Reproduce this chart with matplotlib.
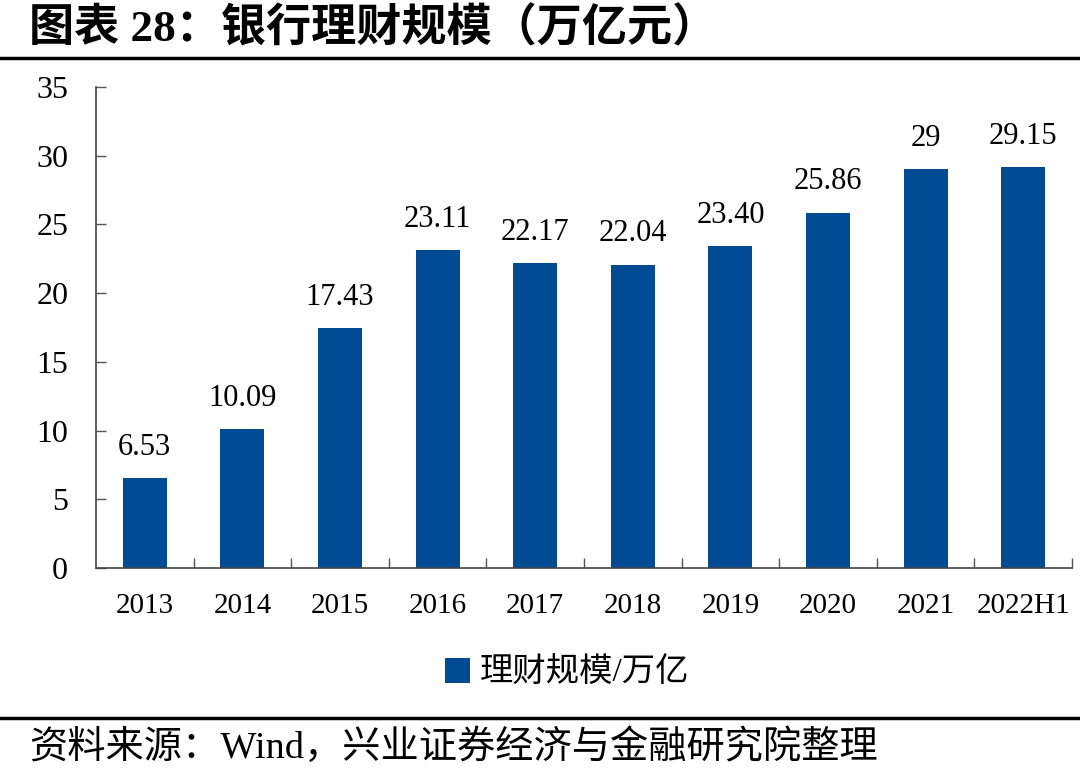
import matplotlib
matplotlib.use("Agg")
import matplotlib.pyplot as plt
import numpy as np

# ── Data ─────────────────────────────────────────────────────
years = ["2013", "2014", "2015", "2016", "2017", "2018", "2019", "2020", "2021", "2022H1"]
scale = [6.53, 10.09, 17.43, 23.11, 22.17, 22.04, 23.40, 25.86, 29.0, 29.15]
value_labels = ["6.53", "10.09", "17.43", "23.11", "22.17", "22.04", "23.40", "25.86", "29", "29.15"]
yticks = [0, 5, 10, 15, 20, 25, 30, 35]

TITLE = "图表 28：银行理财规模（万亿元）"
LEGEND = "理财规模/万亿"
SOURCE = "资料来源：Wind，兴业证券经济与金融研究院整理"

FONT = ["Liberation Serif", "Noto Sans CJK SC"]
BLUE = "#004B93"
plt.rcParams["font.family"] = FONT

fig = plt.figure(figsize=(10.8, 7.68), dpi=100)
ax = fig.add_axes([0.0889, 0.2604, 0.9037, 0.6263])

x = np.arange(len(years))
bars = ax.bar(x, scale, width=0.45, color=BLUE, label=LEGEND)

for xi, v, lab in zip(x, scale, value_labels):
    ax.annotate(lab, xy=(xi, v), xytext=(0, 12), textcoords="offset points",
                ha="center", va="bottom", fontsize=22, family=FONT)

ax.set_xlim(-0.5, len(years) - 0.5)
ax.set_ylim(0, 35)
ax.set_yticks(yticks)
ax.set_yticklabels([str(t) for t in yticks], fontsize=23)
ax.set_xticks(x)
ax.set_xticklabels(years, fontsize=21)
ax.set_xticks(np.arange(0.5, len(years), 1.0), minor=True)

ax.tick_params(axis="y", direction="in", length=7, width=1, color="#555555", pad=20)
ax.tick_params(axis="x", which="major", length=0, pad=18)
ax.tick_params(axis="x", which="minor", direction="in", length=7, width=1, color="#555555")

for s in ["top", "right"]:
    ax.spines[s].set_visible(False)
for s in ["left", "bottom"]:
    ax.spines[s].set_color("#444444")
    ax.spines[s].set_linewidth(1.2)

fig.legend(handles=[bars], labels=[LEGEND], loc="center", bbox_to_anchor=(0.525, 0.123),
           frameon=False, handlelength=0.75, handleheight=0.75,
           handletextpad=0.3, prop={"family": FONT, "size": 24})

# Title and source with rules
fig.text(0.027, 0.962, TITLE, fontsize=32.5, fontweight="bold", va="center", ha="left")
fig.add_artist(plt.Line2D([0, 1], [0.925, 0.925], color="black", linewidth=2.5))
fig.add_artist(plt.Line2D([0, 1], [0.065, 0.065], color="black", linewidth=2.5))
fig.text(0.027, 0.027, SOURCE, fontsize=27.5, va="center", ha="left")

fig.savefig("out.png", dpi=100)
